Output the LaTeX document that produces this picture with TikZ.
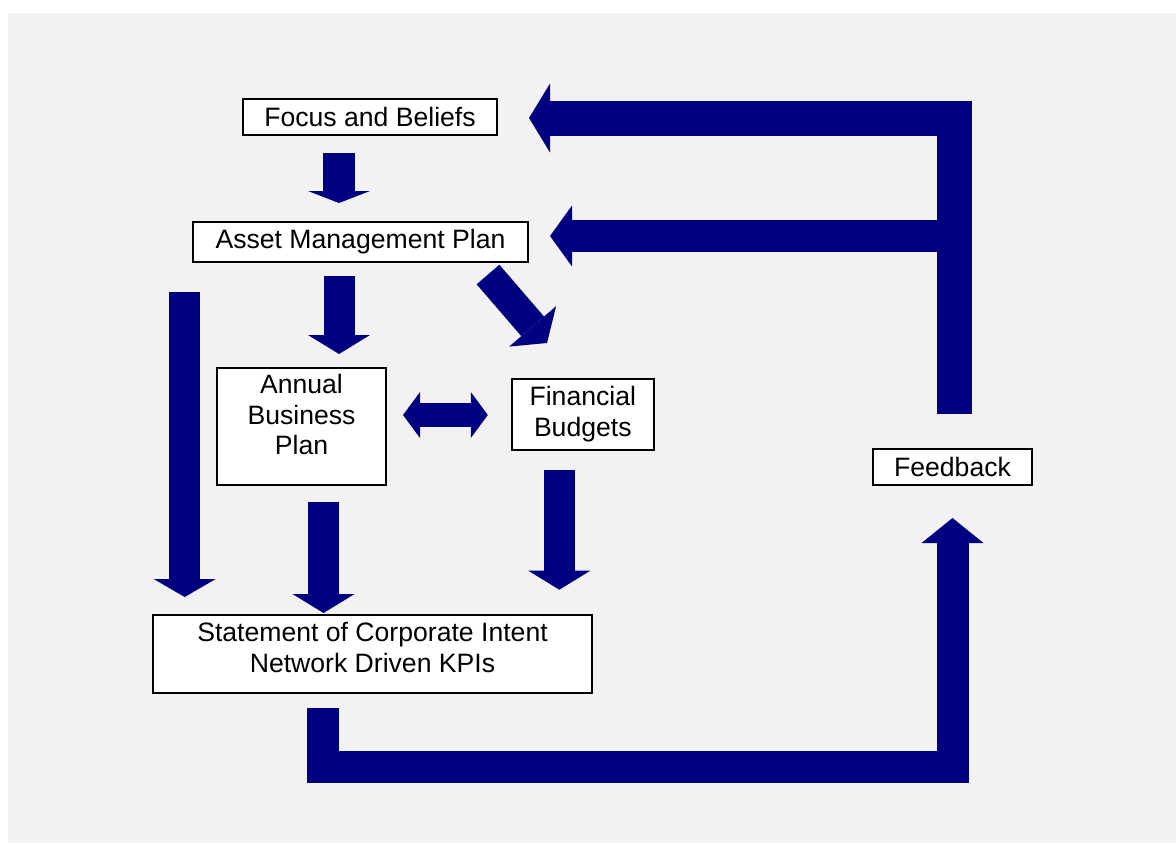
\documentclass[tikz,border=0pt]{standalone}
\usepackage{fontspec}
\setmainfont{Liberation Sans}
\usetikzlibrary{arrows.meta,calc}
\definecolor{navy}{RGB}{0,0,128}
\definecolor{panel}{RGB}{242,242,242}

\tikzset{
	txt/.style={font=\fontsize{13.3pt}{15.4pt}\selectfont, align=center, inner sep=0pt},
	box/.style={txt, draw=black, line width=1pt, fill=white},
	flow/.style={draw=navy, line width=#1, line join=miter},
	head/.style 2 args={arrows={-Triangle[length=#1,width=#2,line width=0pt]}},
}

\begin{document}
\begin{tikzpicture}[x=0.5pt,y=-0.5pt]
			\useasboundingbox (0,0) rectangle (1176,843);
			\fill[white] (0,0) rectangle (1176,843);
			\fill[panel] (8,13) rectangle (1176,843);
			\node[box, minimum width=127pt, minimum height=18pt] (focus) at (370,117) {Focus and Beliefs};
			\node[box, minimum width=167.5pt, minimum height=20pt] (amp) at (360.5,242) {Asset Management Plan};
			\node[box, minimum width=84.5pt, minimum height=58.5pt] (abp) at (301.5,426.5) {};
			\node[txt] (abp text) at ($(abp)+(0,-12)$) {Annual\\Business\\Plan};
			\node[box, minimum width=71pt, minimum height=35.5pt] (fin) at (582.8,414.5) {Financial\\Budgets};
			\node[box, minimum width=219.5pt, minimum height=39pt] (sci) at (372.5,654) {};
			\node[txt] (sci text) at ($(sci)+(0,-6.5)$) {Statement of Corporate Intent\\Network Driven KPIs};
			\node[box, minimum width=79.5pt, minimum height=18pt] (fbk) at (952.5,467) {Feedback};
			\draw[flow=16pt, head={6pt}{31pt}] ($(focus.south)+(-31,17)$) -- ($(focus.south |- amp.north)+(-31,-18)$);
			\draw[flow=15.5pt, head={9.5pt}{31pt}] ($(amp.south)+(-21.5,13)$) -- ($(amp.south |- abp.north)+(-21.5,-13)$);
			\draw[flow=15pt, head={11pt}{31pt}] ($(amp.south east)+(-41,11.5)$) -- ($(fin.north)+(-35.8,-35)$);
			\draw[flow=15.5pt, head={9pt}{31pt}] ($(amp.south west)+(-7.3,29)$) -- ($(amp.south west |- sci.north)+(-7.3,-17)$);
			\draw[flow=12pt, arrows={Triangle[length=8.5pt,width=23pt,line width=0pt]-Triangle[length=8.5pt,width=23pt,line width=0pt]}] ($(abp.east)+(16,-11.5)$) -- ($(abp.east -| fin.west)+(-23,-11.5)$);
			\draw[flow=15.5pt, head={9.5pt}{31pt}] ($(abp.south)+(22,16)$) -- ($(abp.south |- sci.north)+(22,-1)$);
			\draw[flow=15.5pt, head={9.5pt}{31pt}] ($(fin.south)+(-23.5,19)$) -- ($(fin.south |- sci.north)+(-23.5,-24.3)$);
			\draw[flow=16pt, head={12.5pt}{31pt}] ($(sci.south)+(-49.5,14)$) -- ++(0,59) -| ($(fbk.south)+(0,32)$);
			\draw[flow=17.5pt, head={10.5pt}{34.5pt}] ($(fbk.north)+(1.5,-34)$) |- ($(focus.east)+(31,1)$);
			\draw[flow=16pt, head={11pt}{30.5pt}] ($(fbk.north |- amp.east)+(1.5,-6)$) -- ($(amp.east)+(21,-6)$);
		\end{tikzpicture}
\end{document}
